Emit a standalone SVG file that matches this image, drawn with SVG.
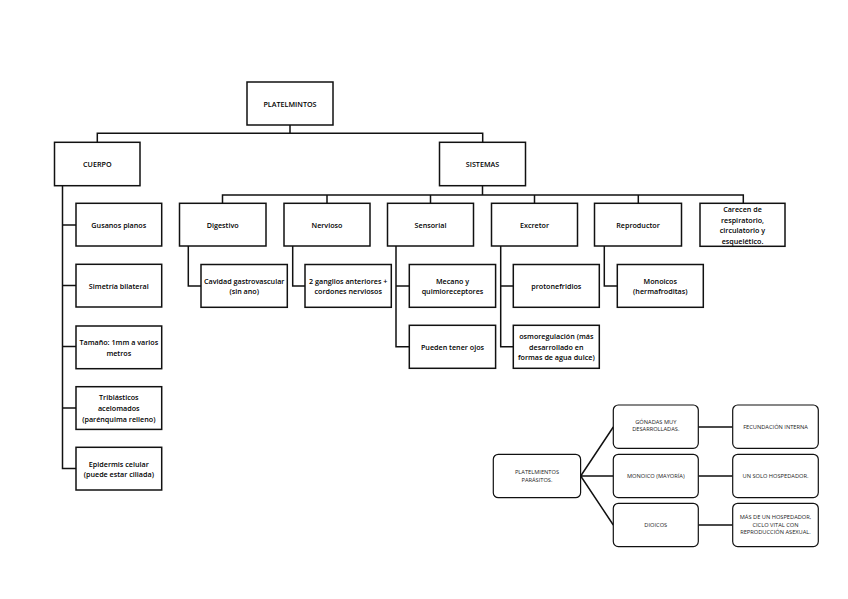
<svg xmlns="http://www.w3.org/2000/svg" width="848" height="599" viewBox="0 0 848 599">
<style>
.b{fill:#fff;stroke:#111;stroke-width:1.5}
.r{fill:#fff;stroke:#111;stroke-width:1.2}
.c{fill:none;stroke:#111;stroke-width:1.5}
.t{font-family:"Open Sans","Liberation Sans",sans-serif;font-size:7.2px;font-weight:600;fill:#000;text-anchor:middle;dominant-baseline:central}
.s{font-family:"Open Sans","Liberation Sans",sans-serif;font-size:5.7px;fill:#222;text-anchor:middle;dominant-baseline:central}
</style>
<rect width="848" height="599" fill="#fff"/>
<g id="connectors">
<path class="c" d="M290 125V133.3M97.3 142.3V133.3H482.7V142.3"/>
<path class="c" d="M482.5 185.7V195M222.5 203.3V195H743.3V203.3M327 195V203.3M430.5 195V203.3M534.5 195V203.3M638.3 195V203.3"/>
<path class="c" d="M62.5 185.7V468.4H76M62.5 225H76M62.5 285.5H76M62.5 346.5H76M62.5 408H76"/>
<path class="c" d="M188.3 246V286H201M292.7 246V286H305M396 246V346.7H409.3M396 286H409.3M500.7 246V346.7H513.3M500.7 286H513.3M604.3 246V286H617.3"/>
<path class="c" d="M580.7 476L613.3 427M580.7 476H613.3M580.7 476L613.3 525M698.3 427H732.7M698.3 476H732.7M698.3 525H732.7"/>
</g>
<g id="platelmintos"><rect class="b" x="247" y="82" width="86" height="43"/><text class="t" x="290" y="103.5">PLATELMINTOS</text></g>
<g id="cuerpo"><rect class="b" x="54.5" y="142.3" width="85.5" height="43.4"/><text class="t" x="97.3" y="164">CUERPO</text></g>
<g id="sistemas"><rect class="b" x="439.5" y="142.3" width="86" height="43.4"/><text class="t" x="482.5" y="164">SISTEMAS</text></g>
<g id="gusanos"><rect class="b" x="76" y="203.3" width="85.7" height="42.7"/><text class="t" x="118.8" y="225">Gusanos planos</text></g>
<g id="simetria"><rect class="b" x="76" y="264.3" width="85.7" height="42.7"/><text class="t" x="118.8" y="285.7">Simetría bilateral</text></g>
<g id="tamano"><rect class="b" x="76" y="326" width="85.7" height="42.7"/><text class="t" x="118.8" y="342">Tamaño: 1mm a varios</text><text class="t" x="118.8" y="352.5">metros</text></g>
<g id="triblasticos"><rect class="b" x="76" y="386.7" width="85.7" height="42.7"/><text class="t" x="118.8" y="397.3">Triblásticos</text><text class="t" x="118.8" y="408.3">acelomados</text><text class="t" x="118.8" y="419.3">(parénquima relleno)</text></g>
<g id="epidermis"><rect class="b" x="76" y="447.3" width="85.7" height="42.7"/><text class="t" x="118.8" y="463.5">Epidermis celular</text><text class="t" x="118.8" y="474">(puede estar ciliada)</text></g>
<g id="digestivo"><rect class="b" x="179.5" y="203.3" width="86.5" height="42.7"/><text class="t" x="222.7" y="224.7">Digestivo</text></g>
<g id="nervioso"><rect class="b" x="284" y="203.3" width="86" height="42.7"/><text class="t" x="327" y="224.7">Nervioso</text></g>
<g id="sensorial"><rect class="b" x="387.5" y="203.3" width="86" height="42.7"/><text class="t" x="430.5" y="224.7">Sensorial</text></g>
<g id="excretor"><rect class="b" x="491.5" y="203.3" width="86" height="42.7"/><text class="t" x="534.5" y="224.7">Excretor</text></g>
<g id="reproductor"><rect class="b" x="594.5" y="203.3" width="87" height="42.7"/><text class="t" x="638" y="224.7">Reproductor</text></g>
<g id="carecen"><rect class="b" x="700" y="203.3" width="85" height="43"/><text class="t" x="742.5" y="209">Carecen de</text><text class="t" x="742.5" y="219.5">respiratorio,</text><text class="t" x="742.5" y="230">circulatorio y</text><text class="t" x="742.5" y="240.5">esquelético.</text></g>
<g id="cavidad"><rect class="b" x="201" y="264.5" width="86.3" height="42.8"/><text class="t" x="244.2" y="280.7">Cavidad gastrovascular</text><text class="t" x="244.2" y="291">(sin ano)</text></g>
<g id="ganglios"><rect class="b" x="305" y="264.5" width="86.3" height="42.8"/><text class="t" x="348.2" y="280.7">2 ganglios anteriores +</text><text class="t" x="348.2" y="291">cordones nerviosos</text></g>
<g id="mecano"><rect class="b" x="409.3" y="264.5" width="86.3" height="42.8"/><text class="t" x="452.5" y="280.7">Mecano y</text><text class="t" x="452.5" y="291">quimioreceptores</text></g>
<g id="protonefridios"><rect class="b" x="513.3" y="264.5" width="86" height="42.8"/><text class="t" x="556.3" y="286">protonefridios</text></g>
<g id="monoicos"><rect class="b" x="617.3" y="264.5" width="86" height="42.8"/><text class="t" x="660.3" y="280.7">Monoicos</text><text class="t" x="660.3" y="291">(hermafroditas)</text></g>
<g id="ojos"><rect class="b" x="409.3" y="325.3" width="86.3" height="43"/><text class="t" x="452.5" y="347">Pueden tener ojos</text></g>
<g id="osmoregulacion"><rect class="b" x="513.3" y="325.3" width="86" height="43"/><text class="t" x="556.3" y="336">osmoregulación (más</text><text class="t" x="556.3" y="346.5">desarrollado en</text><text class="t" x="556.3" y="357">formas de agua dulce)</text></g>
<g id="parasitos"><rect class="r" x="493.3" y="454.3" width="87.3" height="43.4" rx="5"/><text class="s" x="537" y="472">PLATELMIENTOS</text><text class="s" x="537" y="479.8">PARÁSITOS.</text></g>
<g id="gonadas"><rect class="r" x="613.3" y="405" width="85" height="43.3" rx="5"/><text class="s" x="655.8" y="421.7">GÓNADAS MUY</text><text class="s" x="655.8" y="429.4">DESARROLLADAS.</text></g>
<g id="monoico"><rect class="r" x="613.3" y="454.3" width="85" height="43.3" rx="5"/><text class="s" x="655.8" y="476">MONOICO (MAYORÍA)</text></g>
<g id="dioicos"><rect class="r" x="613.3" y="503.3" width="85" height="43.3" rx="5"/><text class="s" x="655.8" y="525">DIOICOS</text></g>
<g id="fecundacion"><rect class="r" x="732.7" y="405" width="85.6" height="43.3" rx="5"/><text class="s" x="775.5" y="427">FECUNDACIÓN INTERNA</text></g>
<g id="hospedador"><rect class="r" x="732.7" y="454.3" width="85.6" height="43.3" rx="5"/><text class="s" x="775.5" y="476">UN SOLO HOSPEDADOR.</text></g>
<g id="mas"><rect class="r" x="732.7" y="503.3" width="85.6" height="43.3" rx="5"/><text class="s" x="775.5" y="516.8">MÁS DE UN HOSPEDADOR,</text><text class="s" x="775.5" y="524.6">CICLO VITAL CON</text><text class="s" x="775.5" y="532.4">REPRODUCCIÓN ASEXUAL.</text></g>
</svg>
